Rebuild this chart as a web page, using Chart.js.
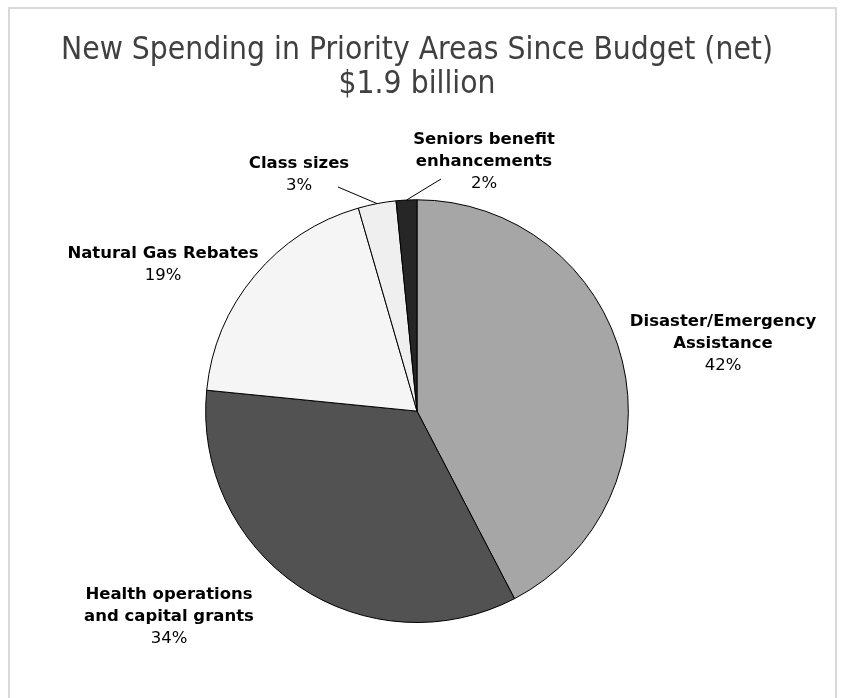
<!DOCTYPE html>
<html>
<head>
<meta charset="utf-8">
<script src="https://cdn.jsdelivr.net/npm/chart.js@4/dist/chart.umd.min.js"></script>
<style>
  html, body { margin: 0; padding: 0; background: #fff; }
  #wrap { position: relative; width: 844px; height: 698px; overflow: hidden; }
  #frame { position: absolute; left: 8px; top: 7px; width: 829px; height: 720px;
           border: 2px solid #d9d9d9; box-sizing: border-box; pointer-events: none; }
  canvas { position: absolute; left: 0; top: 0; }
</style>
</head>
<body>
<div id="wrap">
  <canvas id="pieChart" width="844" height="698"></canvas>
  <div id="frame"></div>
</div>
<script>
// $ millions, total about $1.9 billion
const categories = [
  ['Disaster/Emergency', 'Assistance'],
  ['Health operations', 'and capital grants'],
  ['Natural Gas Rebates'],
  ['Class sizes'],
  ['Seniors benefit', 'enhancements']
]
const amounts = [805, 650, 360, 55, 30]
const sliceColors = ['#a6a6a6', '#525252', '#f5f5f5', '#efefef', '#262626']

// where each label block sits (centre x, first line y) and optional leader line start
const labelSpots = [
  { x: 723, y: 322 },
  { x: 169, y: 595 },
  { x: 163, y: 254 },
  { x: 299, y: 164, lead: [338, 187] },
  { x: 484, y: 140, lead: [441, 179] }
]

const pieLabels = {
  id: 'pieLabels',
  afterDatasetsDraw(chart) {
    const ctx = chart.ctx
    const meta = chart.getDatasetMeta(0)
    const data = chart.data.datasets[0].data
    const total = data.reduce((a, b) => a + b, 0)
    ctx.save()
    ctx.fillStyle = '#000'
    ctx.textAlign = 'center'
    ctx.textBaseline = 'middle'
    meta.data.forEach((arc, i) => {
      const spot = labelSpots[i]
      const lines = categories[i]
      let y = spot.y
      ctx.font = 'bold 16.5px "DejaVu Sans"'
      lines.forEach(l => {
        ctx.fillText(l, spot.x, y)
        y += 22
      })
      ctx.font = '16.5px "DejaVu Sans"'
      ctx.fillText(Math.round(data[i] / total * 100) + '%', spot.x, y)

      if (spot.lead) {
        const p = arc.getProps(['x', 'y', 'startAngle', 'endAngle', 'outerRadius'], true)
        const mid = (p.startAngle + p.endAngle) / 2
        ctx.beginPath()
        ctx.strokeStyle = '#000'
        ctx.lineWidth = 1
        ctx.moveTo(spot.lead[0], spot.lead[1])
        ctx.lineTo(p.x + Math.cos(mid) * p.outerRadius, p.y + Math.sin(mid) * p.outerRadius)
        ctx.stroke()
      }
    })
    ctx.restore()
  }
}

var ctx_pie = document.getElementById('pieChart').getContext('2d');
var pieChart = new Chart(ctx_pie, {
    type: 'pie',
    data: {
        labels: categories.map(c => c.join(' ')),
        datasets: [{
            data: amounts,
            backgroundColor: sliceColors,
            borderColor: '#000',
            borderWidth: 1
        }]
    },
    options: {
        responsive: false,
        animation: false,
        layout: {
            padding: { top: 0, bottom: 75, left: 0, right: 10 }
        },
        plugins: {
            legend: { display: false },
            tooltip: { enabled: false },
            title: {
                display: true,
                text: ['New Spending in Priority Areas Since Budget (net)', '$1.9 billion'],
                color: '#404040',
                font: { family: '"DejaVu Sans Condensed", "DejaVu Sans"', size: 31.5, weight: 'normal', lineHeight: 1.1 },
                padding: { top: 33, bottom: 97 }
            }
        }
    },
    plugins: [pieLabels]
});
</script>
</body>
</html>
